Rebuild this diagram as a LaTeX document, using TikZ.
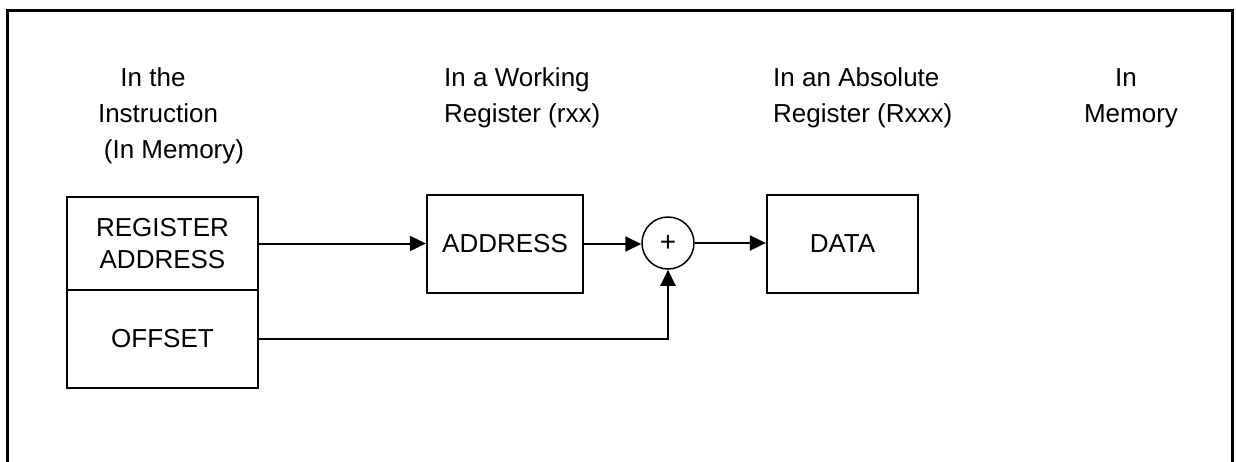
\documentclass[tikz,border=0pt]{standalone}
\usepackage{fontspec}
\setmainfont{Liberation Sans}
\usetikzlibrary{arrows.meta}
\begin{document}
\begin{tikzpicture}[x=1pt,y=-1pt,
  lbl/.style={font=\fontsize{26}{36}\selectfont, inner sep=0pt},
  box/.style={draw, line width=2.3pt, align=center, inner sep=0pt,
    font=\fontsize{26}{32}\selectfont},
  sumnode/.style={draw, circle, line width=1.5pt, minimum size=52pt,
    inner sep=0pt, font=\fontsize{28}{30}\selectfont},
  arr/.style={line width=2pt, -{Triangle[length=16pt,width=15pt]}}]
\useasboundingbox (0,0) rectangle (1236,461);
% outer frame, open at the bottom
\draw[line width=3pt] (7,475) -- (7,10) -- (1232,10) -- (1232,475);

% column headings
\node[lbl, anchor=base] (h1a) at (153,86) {In the};
\node[lbl, anchor=base] (h1b) at (158,122) {Instruction};
\node[lbl, anchor=base] (h1c) at (174,158) {(In Memory)};
\node[lbl, anchor=base west] (h2a) at (444,86) {In a Working};
\node[lbl, anchor=base west] (h2b) at (444,122) {Register (rxx)};
\node[lbl, anchor=base west] (h3a) at (773,86) {In an Absolute};
\node[lbl, anchor=base west] (h3b) at (773,122) {Register (Rxxx)};
\node[lbl, anchor=base] (h4a) at (1126,86) {In};
\node[lbl, anchor=base] (h4b) at (1131,122) {Memory};

% instruction fields
\node[box, minimum width=191pt, minimum height=93pt] (ra) at (162.5,243.5) {REGISTER\\ADDRESS};
\node[box, minimum width=191pt, minimum height=98pt] (off) at (162.5,339) {OFFSET};
% working register, adder, absolute register
\node[box, minimum width=156pt, minimum height=98pt] (addr) at (505,244) {ADDRESS};
\node[sumnode] (sum) at (668,243) {+};
\node[box, minimum width=151pt, minimum height=98pt] (data) at (842.5,244) {DATA};

% data paths
\draw[arr] (ra.east) -- (ra.east -| addr.west);
\draw[arr] (addr.east) -- (addr.east -| sum.west);
\draw[arr] (sum.east) -- (sum.east -| data.west);
\draw[arr] (off.east) -| (sum.south);
\end{tikzpicture}
\end{document}
